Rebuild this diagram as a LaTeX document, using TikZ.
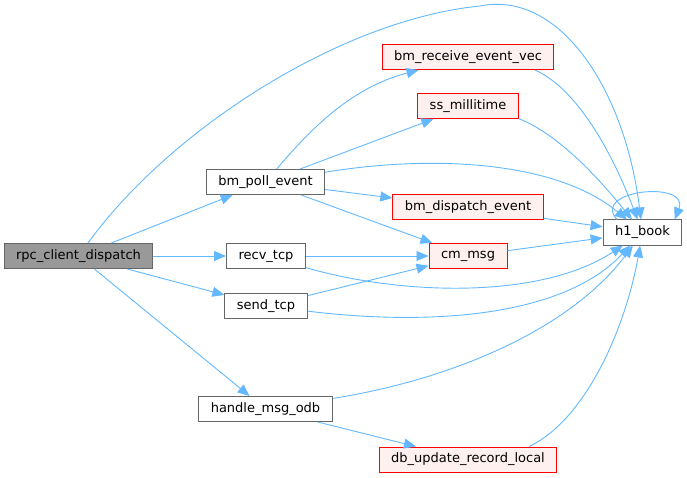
\documentclass[tikz,border=0pt]{standalone}
\usepackage{fontspec}
\setmainfont{DejaVu Sans}
\usetikzlibrary{arrows.meta}
\definecolor{edgeblue}{HTML}{63B8FF}
\definecolor{boxgray}{HTML}{666666}
\definecolor{rootfill}{HTML}{999999}
\definecolor{redfill}{HTML}{FFF0F0}
\begin{document}
\begin{tikzpicture}[x=1pt,y=-1pt,
  fn/.style={draw=boxgray,fill=white,line width=1pt,minimum height=25pt,inner xsep=12pt,font=\fontsize{13}{15}\selectfont},
  ext/.style={fn,draw=red,fill=redfill},
  root/.style={fn,fill=rootfill},
  call/.style={-{Triangle[length=12pt,width=10pt]},edgeblue,line width=0.9pt,draw}]
    \useasboundingbox (0,0) rectangle (687,478);

    \node[root] (rpc) at (78.5,256) {rpc\_client\_dispatch};
    \node[fn] (bpe) at (265.5,182) {bm\_poll\_event};
    \node[fn] (rtcp) at (266,256) {recv\_tcp};
    \node[fn] (stcp) at (266,306) {send\_tcp};
    \node[fn] (hmo) at (265.5,409) {handle\_msg\_odb};
    \node[ext] (brev) at (468,57) {bm\_receive\_event\_vec};
    \node[ext] (ssm) at (468,106) {ss\_millitime};
    \node[ext] (bde) at (468,207.5) {bm\_dispatch\_event};
    \node[ext] (cmm) at (468,256) {cm\_msg};
    \node[ext] (dbu) at (468,459.5) {db\_update\_record\_local};
    \node[fn] (hb) at (642.5,232.5) {h1\_book};

    \path[call] (rpc) .. controls (170,130) and (340,20) .. (480,6) .. controls (560,-10) and (625,90) .. (hb);
    \path[call] (rpc) -- (bpe);
    \path[call] (rpc) -- (rtcp);
    \path[call] (rpc) -- (stcp);
    \path[call] (rpc) -- (hmo);

    \path[call] (bpe) .. controls (310,130) and (350,88) .. (brev);
    \path[call] (bpe) -- (ssm);
    \path[call] (bpe) .. controls (430,155) and (555,160) .. (hb);
    \path[call] (bpe) -- (bde);
    \path[call] (bpe) -- (cmm);

    \path[call] (rtcp) -- (cmm);
    \path[call] (rtcp) .. controls (400,295) and (540,300) .. (hb);
    \path[call] (stcp) -- (cmm);
    \path[call] (stcp) .. controls (420,325) and (560,320) .. (hb);
    \path[call] (hmo) .. controls (450,380) and (570,330) .. (hb);
    \path[call] (hmo) -- (dbu);

    \path[call] (brev.-11) .. controls (580,90) and (615,160) .. (hb);
    \path[call] (ssm.-14) .. controls (560,135) and (600,180) .. (hb);
    \path[call] (bde) -- (hb);
    \path[call] (cmm) -- (hb);
    \path[call] (dbu.12) .. controls (585,420) and (625,330) .. (hb);
    \path[call] (hb.153) .. controls (590,190) and (690,180) .. (hb.22);

  \end{tikzpicture}
\end{document}
